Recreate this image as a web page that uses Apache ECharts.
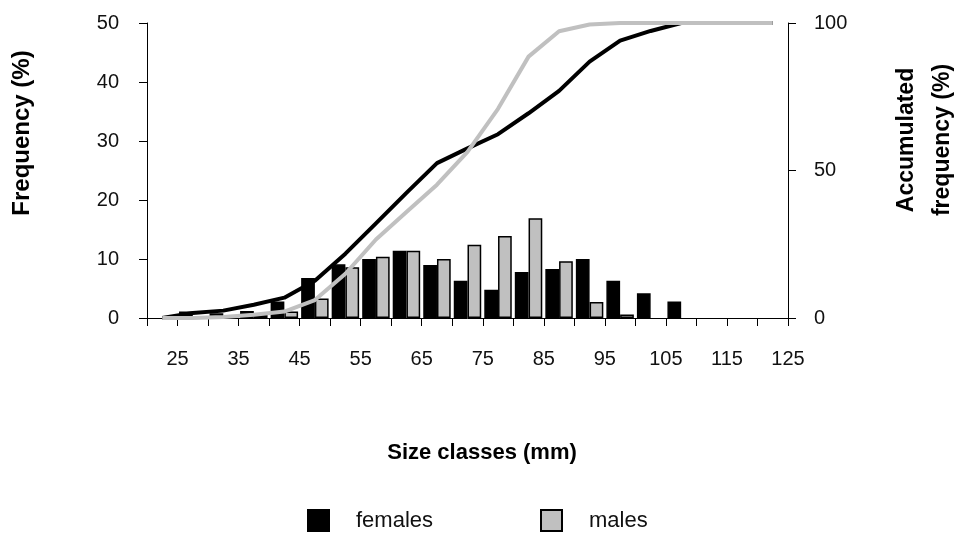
<!DOCTYPE html>
<html>
<head>
<meta charset="utf-8">
<script src="https://cdn.jsdelivr.net/npm/echarts@6/dist/echarts.min.js"></script>
<style>
html,body{margin:0;padding:0;background:#fff;}
#chart{width:962px;height:538px;}
</style>
</head>
<body>
<div id="chart"></div>
<script>
var categories = ['20-25','25-30','30-35','35-40','40-45','45-50','50-55','55-60','60-65','65-70','70-75','75-80','80-85','85-90','90-95','95-100','100-105','105-110','110-115','115-120','120-125'];
var females = [0,1.1,0.8,1.2,2.8,6.8,9.1,10.0,11.4,9.0,6.3,4.8,7.8,8.3,10.0,6.3,4.2,2.8,0,0,0];
var males = [0,0,0.3,0.5,1.1,3.3,8.6,10.4,11.4,10.0,12.4,13.9,16.9,9.6,2.7,0.6,0,0,0,0,0];
var cumFemales = [0,1.7,2.5,4.5,6.9,12.6,21.8,32.1,42.4,52.5,57.5,62.3,69.4,77.0,86.9,94.0,97.3,100,100,100,100];
var cumMales = [0,0,0.3,1.1,2.2,6.1,15.0,26.6,35.9,45.2,56.3,70.9,88.6,97.2,99.5,100,100,100,100,100,100];
var sizeMin = 20, sizeMax = 125, sizeStep = 5;

function barData(arr){ return arr.map(function(v){ return v === 0 ? null : v; }); }

var FONT = '"Liberation Sans", Arial, sans-serif';
var chart = echarts.init(document.getElementById('chart'), null, {renderer:'canvas'});
var tickLabel = {color:'#111', fontFamily:FONT, fontSize:20};
chart.setOption({
  animation:false,
  backgroundColor:'#fff',
  grid:{left:147, top:23, width:641, height:295, containLabel:false},
  legend:[
    {data:['females'], left:307, top:509, padding:0, itemWidth:21, itemHeight:21, icon:'rect',
     textStyle:{fontFamily:FONT, fontSize:22, color:'#111', padding:[0,0,0,22]}},
    {data:['males'], left:540, top:509, padding:0, itemWidth:21, itemHeight:21, icon:'rect',
     textStyle:{fontFamily:FONT, fontSize:22, color:'#111', padding:[0,0,0,22]}}
  ],
  xAxis:[
    {type:'category', data:categories, boundaryGap:true, show:false, position:'bottom'},
    {type:'value', min:sizeMin, max:sizeMax, interval:sizeStep, position:'bottom',
     axisLine:{show:true, lineStyle:{color:'#000', width:1}},
     axisTick:{show:true, length:8, lineStyle:{color:'#000'}},
     splitLine:{show:false},
     axisLabel:Object.assign({margin:31, formatter:function(v){return (v % 10 === 5) ? String(v) : '';}}, tickLabel)}
  ],
  yAxis:[
    {type:'value', min:0, max:50, interval:10, position:'left',
     axisLine:{show:true, lineStyle:{color:'#000', width:1}},
     axisTick:{show:true, length:8, lineStyle:{color:'#000'}},
     splitLine:{show:false},
     axisLabel:Object.assign({margin:28}, tickLabel)},
    {type:'value', min:0, max:100, interval:50, position:'right',
     axisLine:{show:true, lineStyle:{color:'#000', width:1}},
     axisTick:{show:true, length:8, lineStyle:{color:'#000'}},
     splitLine:{show:false},
     axisLabel:Object.assign({margin:26}, tickLabel)}
  ],
  graphic:[
    {type:'text', x:22, y:133, rotation:Math.PI/2,
     style:{text:'Frequency (%)', font:'bold 24px ' + FONT, fill:'#000', align:'center', verticalAlign:'middle'}},
    {type:'text', x:925, y:140, rotation:Math.PI/2,
     style:{text:'Accumulated\nfrequency (%)', font:'bold 23px ' + FONT, fill:'#000', align:'center', verticalAlign:'middle', lineHeight:36}},
    {type:'text', x:482, y:453,
     style:{text:'Size classes (mm)', font:'bold 22px ' + FONT, fill:'#000', align:'center', verticalAlign:'middle'}}
  ],
  series:[
    {name:'females', type:'bar', xAxisIndex:0, yAxisIndex:0, data:barData(females),
     barGap:'0%', barCategoryGap:'10%',
     itemStyle:{color:'#000', borderColor:'#000', borderWidth:1.5}},
    {name:'males', type:'bar', xAxisIndex:0, yAxisIndex:0, data:barData(males),
     barGap:'0%', barCategoryGap:'10%',
     itemStyle:{color:'#c0c0c0', borderColor:'#000', borderWidth:1.5}},
    {name:'cum females', type:'line', xAxisIndex:0, yAxisIndex:1, data:cumFemales,
     showSymbol:false, symbol:'none', lineStyle:{color:'#000', width:4}, z:3},
    {name:'cum males', type:'line', xAxisIndex:0, yAxisIndex:1, data:cumMales,
     showSymbol:false, symbol:'none', lineStyle:{color:'#c0c0c0', width:4}, z:4}
  ]
});
</script>
</body>
</html>
